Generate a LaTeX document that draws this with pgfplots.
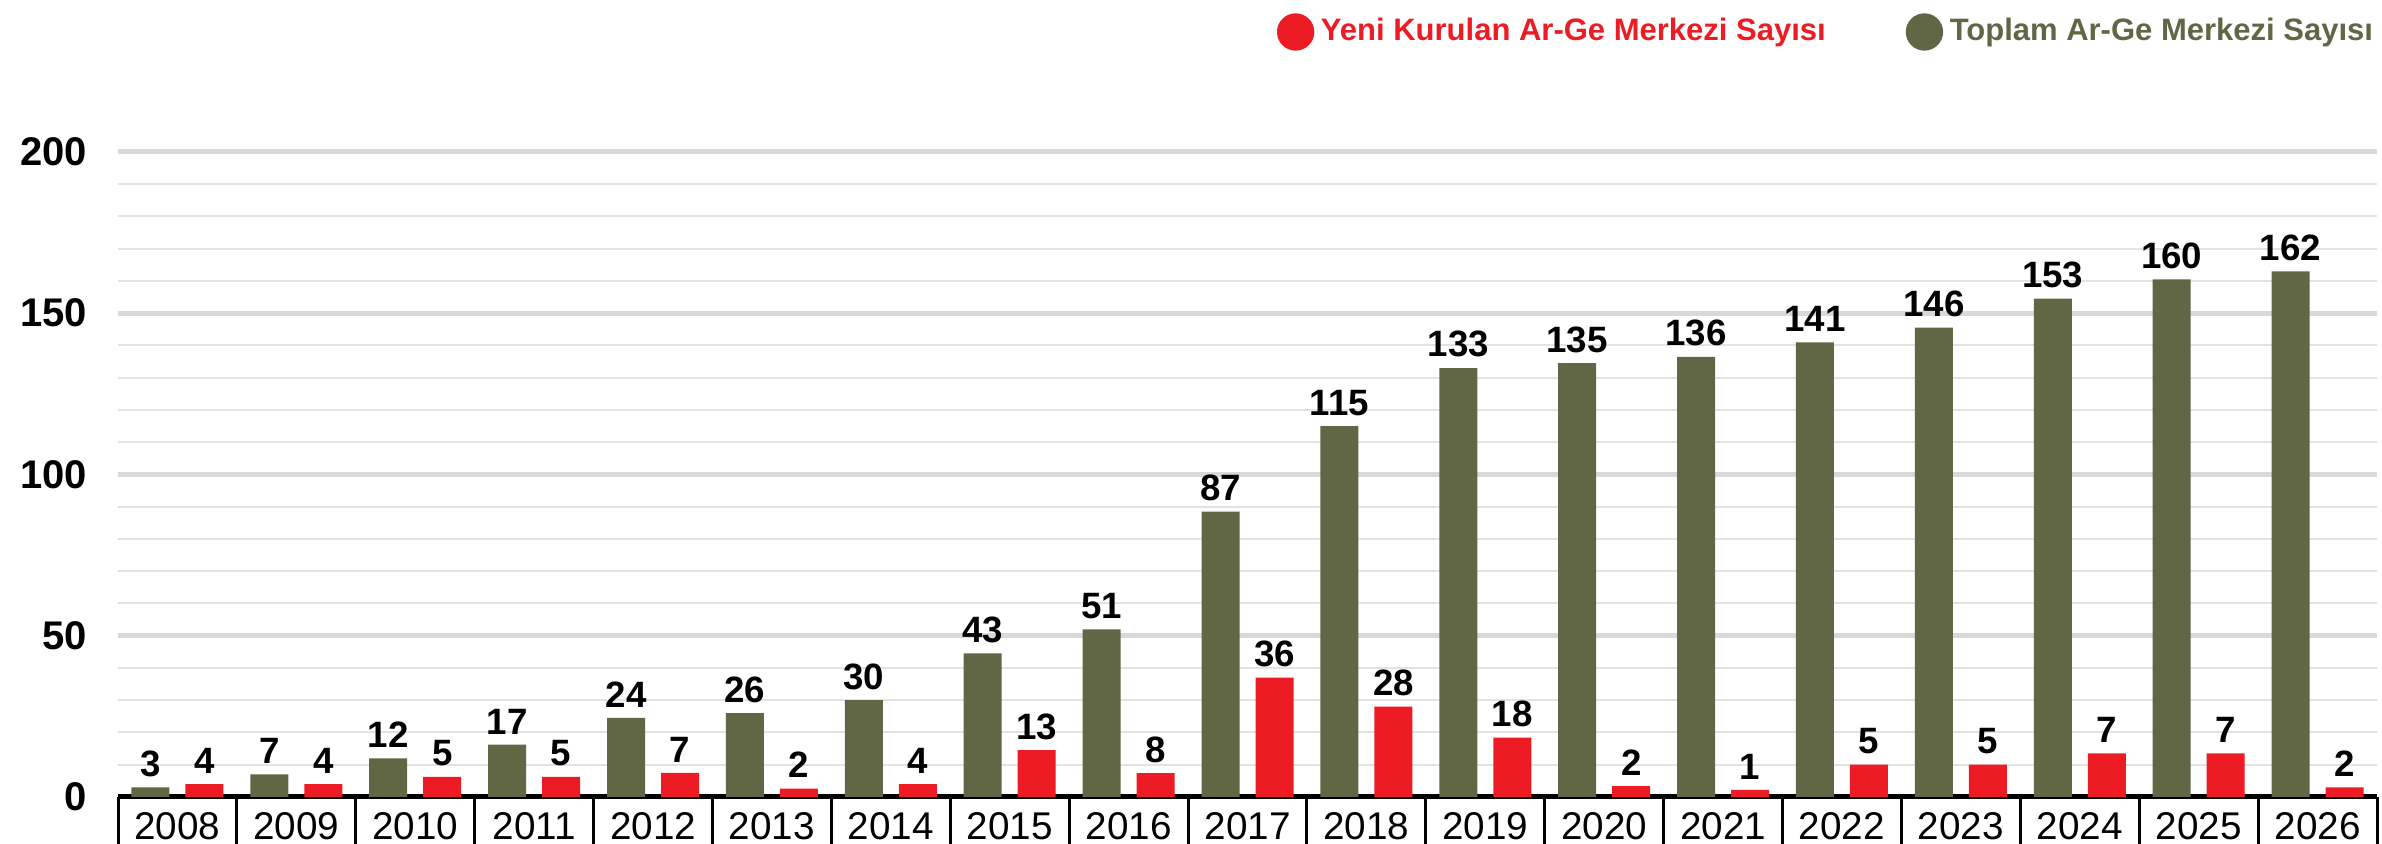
\documentclass[border=0pt]{standalone}
\usepackage{pgfplots}
\pgfplotsset{compat=1.18}
\usepackage{fontspec}
\setmainfont{Liberation Sans}
\definecolor{argreen}{HTML}{616745}
\definecolor{arred}{HTML}{ED1C24}
\definecolor{majgrid}{HTML}{D9D9D9}
\definecolor{mingrid}{HTML}{E2E2E2}

\begin{document}
\begin{tikzpicture}
\path[use as bounding box] (0,0) rectangle (714.6pt,253.2pt);
\begin{axis}[
    at={(35.4pt,14.1pt)}, anchor=south west,
    scale only axis, width=677.7pt, height=193.5pt,
    ybar, bar width=11.4pt,
    xmin=-0.5, xmax=18.5, ymin=0, ymax=200,
    axis x line=bottom, axis y line=left,
    axis line style={-},
    x axis line style={black, line width=1.5pt},
    y axis line style={draw=none},
    xtick={0,...,18},
    xticklabels={2008,2009,2010,2011,2012,2013,2014,2015,2016,2017,2018,2019,2020,2021,2022,2023,2024,2025,\raisebox{2.5pt}{2026}},
    xtick style={draw=none},
    xticklabel style={font=\fontsize{11.6}{12}\selectfont, inner sep=0pt, anchor=north, yshift=-2.4pt},
    ytick={0,50,...,200},
    minor ytick={10,20,30,40,60,70,80,90,110,120,130,140,160,170,180,190},
    ytick style={draw=none},
    yticklabel style={font=\bfseries\fontsize{12}{13}\selectfont, inner sep=0pt, anchor=east, xshift=-7pt},
    /pgf/number format/assume math mode=true,
    ymajorgrids, yminorgrids,
    major grid style={majgrid, line width=1.5pt},
    minor grid style={mingrid, line width=0.6pt},
    point meta=explicit symbolic,
    nodes near coords,
    nodes near coords style={font=\bfseries\fontsize{11}{12}\selectfont, inner sep=0pt, anchor=south, yshift=3pt, text=black},
    clip=false,
    legend style={draw=none, fill=none, at={(1,1)}, anchor=east, yshift=36pt, xshift=1pt,
        legend columns=2, font=\bfseries\fontsize{9.3}{11}\selectfont, inner sep=0pt,
        /tikz/every even column/.append style={column sep=22pt}},
  ]
  \addlegendimage{legend image code/.code={\fill[arred] (5.4pt,0pt) circle (5.4pt);}}
  \addlegendentry{\textcolor{arred}{Yeni Kurulan Ar-Ge Merkezi Sayısı}}
  \addlegendimage{legend image code/.code={\fill[argreen] (5.4pt,0pt) circle (5.4pt);}}
  \addlegendentry{\textcolor{argreen}{Toplam Ar-Ge Merkezi Sayısı}}

  % Toplam (green, left bar): bar height as drawn, label as printed
  \addplot[fill=argreen, draw=none, forget plot, bar shift=-8.1pt] coordinates {
    (0,3) [3] (1,7) [7] (2,12) [12] (3,16.2) [17] (4,24.5) [24] (5,26) [26]
    (6,30) [30] (7,44.5) [43] (8,52) [51] (9,88.5) [87] (10,115) [115]
    (11,133) [133] (12,134.5) [135] (13,136.5) [136] (14,141) [141]
    (15,145.5) [146] (16,154.5) [153] (17,160.5) [160] (18,163) [162]
  };
  % Yeni kurulan (red, right bar)
  \addplot[fill=arred, draw=none, forget plot, bar shift=8.1pt] coordinates {
    (0,4) [4] (1,4) [4] (2,6.2) [5] (3,6.2) [5] (4,7.5) [7] (5,2.6) [2]
    (6,4) [4] (7,14.5) [13] (8,7.4) [8] (9,37) [36] (10,28) [28]
    (11,18.4) [18] (12,3.4) [2] (13,2.2) [1] (14,10) [5] (15,10) [5]
    (16,13.5) [7] (17,13.5) [7] (18,3) [2]
  };

  % year cell borders
  \pgfplotsinvokeforeach{-0.5,0.5,1.5,2.5,3.5,4.5,5.5,6.5,7.5,8.5,9.5,10.5,11.5,12.5,13.5,14.5,15.5,16.5,17.5,18.5}{
    \draw[black, line width=0.9pt] (axis cs:#1,0) -- ++(0pt,-20pt);
  }
\end{axis}
\end{tikzpicture}
\end{document}
